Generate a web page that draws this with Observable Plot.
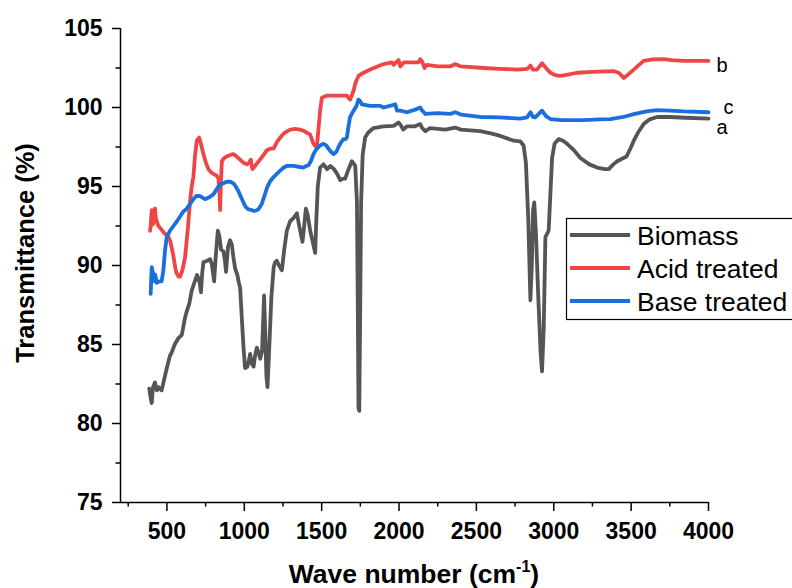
<!DOCTYPE html>
<html>
<head>
<meta charset="utf-8">
<script src="https://cdn.jsdelivr.net/npm/d3@7"></script>
<script src="https://cdn.jsdelivr.net/npm/@observablehq/plot@0.6"></script>
<style>
  html, body { margin: 0; padding: 0; background: white; overflow: hidden; }
  #chart { width: 792px; height: 588px; overflow: hidden; }
</style>
</head>
<body>
<div id="chart"></div>
<script>
// ---- Data ----
const seriesNames = ["Biomass", "Acid treated", "Base treated"];
const seriesColors = ["#555555", "#f04545", "#1a6fdf"];
const seriesTags = ["a", "b", "c"];

const biomassWn = [386,395,402,410,423,435,445,466,480,499,520,531,550,574,596,617,628,645,660,680,695,703,712,720,728,736,760,779,790,805,815,829,840,850,865,875,882,895,908,920,930,941,955,965,973,985,995,1005,1020,1030,1038,1048,1060,1070,1081,1092,1103,1115,1128,1136,1143,1150,1160,1175,1190,1199,1210,1225,1243,1258,1275,1296,1318,1340,1355,1376,1387,1398,1410,1426,1440,1458,1466,1475,1490,1512,1535,1556,1580,1600,1620,1640,1652,1670,1695,1717,1728,1733,1738,1743,1748,1755,1765,1781,1800,1835,1900,1965,1997,2010,2027,2050,2100,2137,2150,2170,2200,2300,2363,2400,2525,2600,2655,2741,2784,2805,2820,2835,2849,2858,2866,2874,2885,2900,2915,2924,2935,2946,2967,2978,2989,3005,3032,3060,3086,3130,3172,3230,3280,3330,3355,3385,3410,3450,3470,3500,3517,3550,3581,3620,3668,3750,3850,4000];
const biomassT = [82.2,81.6,81.3,82.3,82.6,82.1,82.3,82.1,82.7,83.5,84.3,84.5,85.0,85.4,85.6,86.7,87.1,87.6,88.4,89.0,89.4,89.2,88.9,88.3,89.5,90.2,90.3,90.4,90.1,89.0,90.5,92.2,91.8,91.0,90.9,90.3,89.6,91.2,91.6,91.3,90.5,89.8,89.4,88.9,88.6,86.5,84.8,83.5,83.6,84.0,84.4,83.8,83.6,84.3,84.8,84.5,84.1,84.6,88.1,85.5,83.0,82.3,84.5,88.0,89.9,90.2,90.3,90.0,89.7,91.0,92.2,92.8,93.0,93.3,92.5,91.5,92.5,93.6,93.2,92.2,91.6,90.8,93.0,95.0,96.2,96.4,96.1,96.3,96.1,95.8,95.4,95.5,95.5,96.0,96.6,96.3,94.0,88.0,81.0,80.8,86.0,94.0,97.0,98.1,98.4,98.7,98.8,98.84,99.05,98.9,98.6,98.8,98.8,98.95,98.7,98.5,98.7,98.6,98.73,98.6,98.5,98.35,98.2,97.9,97.85,97.6,96.5,93.0,87.8,90.0,93.5,94.0,92.0,88.0,84.5,83.3,86.0,91.8,92.2,94.5,96.8,97.7,98.0,97.9,97.7,97.3,96.8,96.4,96.2,96.1,96.1,96.4,96.6,96.8,96.9,97.5,97.9,98.5,98.95,99.25,99.4,99.4,99.35,99.3];

const acidWn = [391,395,402,410,418,423,428,434,445,455,470,488,505,520,540,555,563,575,585,600,617,635,650,660,671,682,693,708,720,736,752,768,785,800,820,833,840,844,848,855,870,887,910,930,950,973,995,1016,1030,1042,1048,1053,1070,1085,1102,1125,1146,1170,1189,1210,1232,1260,1296,1330,1361,1390,1404,1425,1447,1460,1470,1480,1490,1501,1520,1534,1600,1663,1684,1706,1720,1738,1771,1814,1860,1900,1954,1965,1980,1997,2008,2030,2080,2126,2137,2150,2165,2180,2250,2331,2363,2400,2547,2650,2763,2830,2849,2865,2891,2924,2950,2978,3010,3043,3100,3151,3250,3387,3420,3440,3452,3470,3506,3540,3581,3640,3711,3760,3840,4000];
const acidT = [92.2,92.5,93.5,92.6,93.4,93.6,93.0,92.8,92.5,92.4,92.2,92.0,91.9,91.6,90.7,89.8,89.5,89.3,89.3,89.7,90.5,92.3,94.1,95.0,95.6,97.0,97.9,98.1,97.7,97.05,96.5,96.1,95.9,95.8,95.7,95.5,94.5,93.5,95.0,96.6,96.8,96.9,97.0,97.05,96.9,96.7,96.5,96.4,96.5,96.7,96.3,96.1,96.3,96.5,96.7,97.0,97.3,97.4,97.4,97.8,98.1,98.4,98.6,98.65,98.6,98.5,98.4,98.3,97.7,97.55,97.6,98.7,99.8,100.6,100.7,100.75,100.75,100.75,100.5,101.06,101.6,102.0,102.2,102.4,102.6,102.75,102.85,102.7,102.85,103.0,102.6,102.85,102.85,102.85,103.06,102.9,102.5,102.7,102.6,102.6,102.75,102.6,102.5,102.45,102.4,102.45,102.65,102.4,102.4,102.8,102.5,102.2,102.05,102.0,102.1,102.2,102.25,102.3,102.2,102.0,101.86,102.0,102.3,102.6,102.95,103.05,103.06,103.0,102.95,102.95];

const baseWn = [395,398,402,408,413,420,425,434,450,466,477,488,499,520,542,565,585,605,628,650,671,690,714,730,747,770,800,820,844,865,887,910,930,945,962,980,994,1010,1027,1050,1065,1081,1095,1113,1130,1146,1165,1189,1210,1232,1255,1275,1300,1318,1350,1382,1400,1415,1430,1447,1465,1490,1512,1530,1544,1560,1577,1595,1609,1625,1641,1655,1663,1675,1684,1706,1725,1738,1749,1760,1814,1879,1900,1976,1987,2008,2051,2100,2137,2150,2170,2250,2331,2363,2400,2525,2650,2784,2827,2849,2865,2880,2924,2950,2978,3050,3193,3300,3366,3450,3517,3600,3668,3750,3840,4000];
const baseT = [88.2,89.0,89.9,89.6,89.5,89.0,89.4,88.9,89.0,89.0,89.7,91.0,91.8,92.2,92.5,92.8,93.1,93.4,93.6,93.9,94.2,94.4,94.4,94.3,94.2,94.3,94.5,94.8,95.15,95.2,95.3,95.3,95.2,95.0,94.7,94.3,94.0,93.7,93.55,93.5,93.45,93.5,93.6,93.9,94.4,94.9,95.3,95.6,95.8,96.0,96.2,96.3,96.3,96.3,96.25,96.2,96.3,96.35,96.6,97.05,97.35,97.6,97.7,97.6,97.4,97.2,97.05,97.2,97.5,97.8,98.0,98.0,98.1,98.9,99.4,99.8,100.1,100.5,100.4,100.2,100.1,100.1,100.0,100.2,99.8,99.8,99.7,99.85,100.0,99.8,99.6,99.65,99.6,99.7,99.55,99.4,99.37,99.3,99.37,99.7,99.4,99.37,99.8,99.45,99.27,99.2,99.2,99.25,99.27,99.4,99.58,99.75,99.84,99.8,99.75,99.7];

const xMajorTicks = [500,1000,1500,2000,2500,3000,3500,4000];
const xMinorTicks = [250,750,1250,1750,2250,2750,3250,3750];
const yMajorTicks = [75,80,85,90,95,100,105];
const yMinorTicks = [77.5,82.5,87.5,92.5,97.5,102.5];
const xDomain = [200, 4000];
const yDomain = [75, 105];
const xTitle = "Wave number (cm";
const xTitleSup = "-1";
const yTitle = "Transmittance (%)";

// ---- Build rows ----
const toRows = (wn, t, name) => wn.map((w, i) => ({wn: w, t: t[i], series: name}));
const allSeries = [
  toRows(biomassWn, biomassT, seriesNames[0]),
  toRows(acidWn, acidT, seriesNames[1]),
  toRows(baseWn, baseT, seriesNames[2])
];
const lastPoints = allSeries.map((rows, i) => ({...rows[rows.length - 1], tag: seriesTags[i]}));

const FONT = "'Liberation Sans', Arial, Helvetica, sans-serif";
const tagOffsets = [{dx: 8, dy: 9}, {dx: 8, dy: 5}, {dx: 15, dy: -5}];

const chart = Plot.plot({
  width: 792,
  height: 588,
  marginLeft: 120,
  marginRight: 84,
  marginTop: 28,
  marginBottom: 86,
  style: {fontFamily: FONT, color: "black", background: "white", overflow: "hidden"},
  x: {domain: xDomain},
  y: {domain: yDomain},
  marks: [
    Plot.axisX({ticks: xMajorTicks, tickSize: 9, tickPadding: 11, fontSize: 23, fontWeight: "bold", label: null, strokeWidth: 1.5, tickFormat: d => String(d)}),
    Plot.axisX({ticks: xMinorTicks, tickSize: 4.5, text: null, label: null, strokeWidth: 1.5}),
    Plot.axisY({ticks: yMajorTicks, tickSize: 8, tickPadding: 10, fontSize: 23, fontWeight: "bold", label: null, strokeWidth: 1.5, tickFormat: d => String(d)}),
    Plot.axisY({ticks: yMinorTicks, tickSize: 4.5, text: null, label: null, strokeWidth: 1.5}),
    Plot.ruleX([xDomain[0]], {stroke: "black", strokeWidth: 1.5}),
    Plot.ruleY([yDomain[0]], {stroke: "black", strokeWidth: 1.5}),
    ...allSeries.map((rows, i) => Plot.line(rows, {
      x: "wn", y: "t", stroke: seriesColors[i], strokeWidth: 3.8,
      strokeLinejoin: "round", strokeLinecap: "round"
    })),
    ...lastPoints.map((p, i) => Plot.text([p], {
      x: "wn", y: "t", text: "tag", textAnchor: "start",
      dx: tagOffsets[i].dx, dy: tagOffsets[i].dy, fontSize: 20, fill: "black", fontFamily: FONT
    }))
  ]
});

document.getElementById("chart").appendChild(chart);

// ---- Axis titles & legend (added into the Plot SVG) ----
const svg = d3.select(chart);

const xt = svg.append("text")
  .attr("x", 414).attr("y", 583)
  .attr("text-anchor", "middle")
  .attr("font-family", FONT).attr("font-weight", "bold").attr("font-size", 26.5)
  .attr("fill", "black");
xt.append("tspan").text(xTitle);
xt.append("tspan").attr("font-size", 16).attr("dy", -11).text(xTitleSup);
xt.append("tspan").attr("dy", 11).text(")");

svg.append("text")
  .attr("transform", "translate(34,253) rotate(-90)")
  .attr("text-anchor", "middle")
  .attr("font-family", FONT).attr("font-weight", "bold").attr("font-size", 25.5)
  .attr("fill", "black")
  .text(yTitle);

const lg = svg.append("g");
lg.append("rect")
  .attr("x", 566.5).attr("y", 218.5).attr("width", 240).attr("height", 101)
  .attr("fill", "white").attr("stroke", "black").attr("stroke-width", 1.2);
seriesNames.forEach((name, i) => {
  const cy = 235 + i * 33;
  lg.append("line")
    .attr("x1", 570).attr("x2", 630).attr("y1", cy).attr("y2", cy)
    .attr("stroke", seriesColors[i]).attr("stroke-width", 4);
  lg.append("text")
    .attr("x", 637).attr("y", cy + 9.5)
    .attr("text-anchor", "start")
    .attr("font-family", FONT).attr("font-size", 26.5).attr("fill", "black")
    .text(name);
});
</script>
</body>
</html>
